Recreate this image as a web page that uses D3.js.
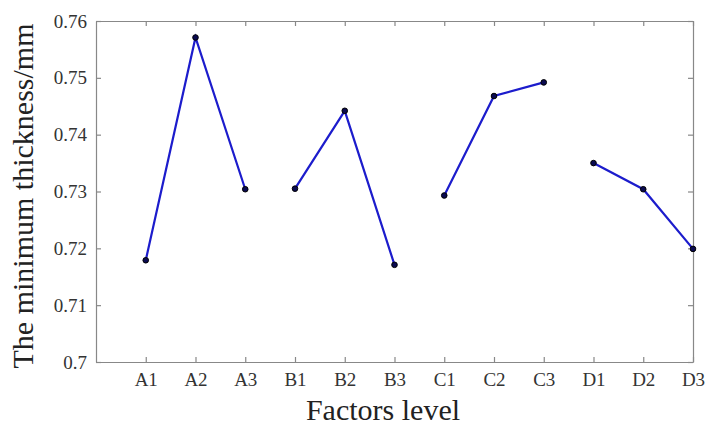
<!DOCTYPE html>
<html>
<head>
<meta charset="utf-8">
<script src="https://cdn.jsdelivr.net/npm/d3@7"></script>
<style>
  body { margin: 0; background: #fff; }
  svg text { font-family: "Liberation Serif", "DejaVu Serif", serif !important; }
</style>
</head>
<body>
<div id="chart"></div>
<script>
// DATA
const levels = ["A1", "A2", "A3", "B1", "B2", "B3", "C1", "C2", "C3", "D1", "D2", "D3"];
const groups = [["A1", "A2", "A3"], ["B1", "B2", "B3"], ["C1", "C2", "C3"], ["D1", "D2", "D3"]];
const thickness = [0.7179, 0.7571, 0.7304, 0.7305, 0.7442, 0.7171, 0.7293, 0.7468, 0.7492, 0.7350, 0.7304, 0.7199];
const yTicks = [0.7, 0.71, 0.72, 0.73, 0.74, 0.75, 0.76];

const width = 709,
  height = 428,
  margin = { top: 21, right: 16, bottom: 66, left: 96 };

const svg = d3.select("#chart").append("svg")
  .attr("width", width)
  .attr("height", height);

// SCALES
const xScale = d3.scaleLinear()
  .domain([0, levels.length])
  .range([margin.left, width - margin.right]);

const yScale = d3.scaleLinear()
  .domain([0.7, 0.76])
  .range([height - margin.bottom, margin.top]);

const xIdx = name => levels.indexOf(name) + 1;
const valueOf = name => thickness[levels.indexOf(name)];

// AXES (box with inward ticks)
const tickLen = 5;
const axisColor = "#888";

const gBottom = svg.append("g")
  .attr("transform", `translate(0,${height - margin.bottom})`)
  .call(d3.axisBottom(xScale)
    .tickValues(d3.range(1, levels.length + 1))
    .tickFormat(i => levels[i - 1])
    .tickSizeInner(-tickLen).tickSizeOuter(0).tickPadding(11));

const gTop = svg.append("g")
  .attr("transform", `translate(0,${margin.top})`)
  .call(d3.axisTop(xScale)
    .tickValues(d3.range(1, levels.length + 1))
    .tickFormat("")
    .tickSizeInner(-tickLen).tickSizeOuter(0));

const gLeft = svg.append("g")
  .attr("transform", `translate(${margin.left},0)`)
  .call(d3.axisLeft(yScale)
    .tickValues(yTicks)
    .tickFormat(d3.format("~g"))
    .tickSizeInner(-tickLen).tickSizeOuter(0).tickPadding(9));

const gRight = svg.append("g")
  .attr("transform", `translate(${width - margin.right},0)`)
  .call(d3.axisRight(yScale)
    .tickValues(yTicks)
    .tickFormat("")
    .tickSizeInner(-tickLen).tickSizeOuter(0));

[gBottom, gTop, gLeft, gRight].forEach(g => {
  g.attr("font-family", null);
  g.selectAll("path, line").attr("stroke", axisColor).attr("stroke-width", 1.2);
  g.selectAll("text").attr("fill", "#333");
});
gBottom.selectAll("text").attr("font-size", 19);
gLeft.selectAll("text").attr("font-size", 19);

// LINES
const line = d3.line()
  .x(d => xScale(xIdx(d)))
  .y(d => yScale(valueOf(d)));

svg.selectAll(".factor")
  .data(groups)
  .join("path")
  .attr("class", "factor")
  .attr("d", line)
  .attr("fill", "none")
  .attr("stroke", "#1c1ccc")
  .attr("stroke-width", 2.2);

svg.selectAll(".dot")
  .data(levels)
  .join("circle")
  .attr("class", "dot")
  .attr("cx", d => xScale(xIdx(d)))
  .attr("cy", d => yScale(valueOf(d)))
  .attr("r", 2.8)
  .attr("fill", "#0a0a50")
  .attr("stroke", "#000")
  .attr("stroke-width", 1);

// TITLES
svg.append("text")
  .attr("x", 383)
  .attr("y", 420)
  .attr("text-anchor", "middle")
  .attr("font-size", 30)
  .attr("fill", "#222")
  .text("Factors level");

svg.append("text")
  .attr("transform", "translate(33,196) rotate(-90)")
  .attr("text-anchor", "middle")
  .attr("font-size", 30)
  .attr("fill", "#222")
  .text("The minimum thickness/mm");
</script>
</body>
</html>
